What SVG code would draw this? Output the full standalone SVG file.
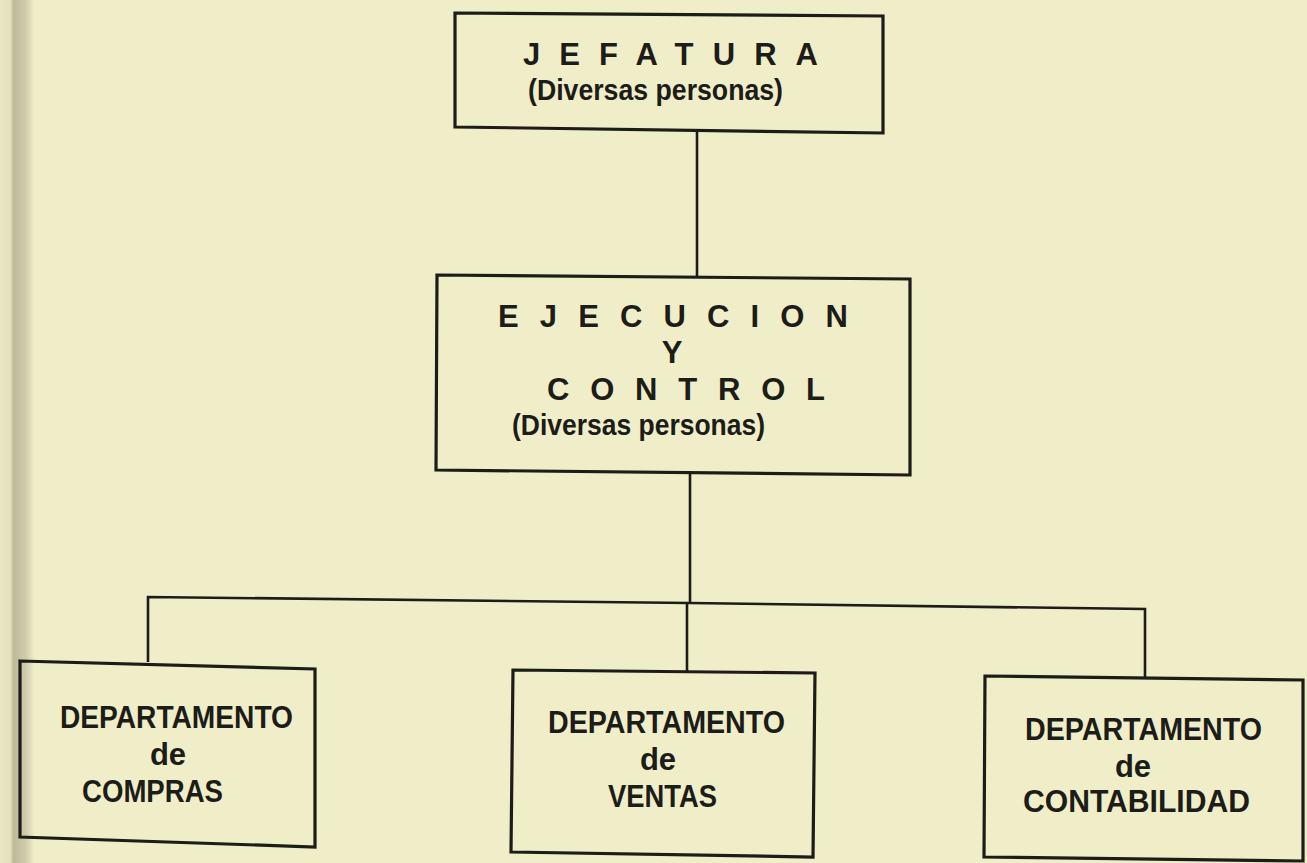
<svg xmlns="http://www.w3.org/2000/svg" width="1307" height="863" viewBox="0 0 1307 863">
<defs>
<linearGradient id="edge" x1="0" y1="0" x2="1" y2="0">
<stop offset="0" stop-color="#e9e7c4"/>
<stop offset="0.3" stop-color="#e4e1bd"/>
<stop offset="0.4" stop-color="#bdb99a"/>
<stop offset="0.75" stop-color="#cfcbab"/>
<stop offset="1" stop-color="#eeecc8"/>
</linearGradient>
</defs>
<style>
.bg{fill:#f0eec8}
.box{fill:none;stroke:#1c1c18;stroke-width:3.2}
.ln{fill:none;stroke:#1c1c18;stroke-width:2.6}
.t{font-family:"Liberation Sans",Arial,sans-serif;font-weight:bold;fill:#1c1c18}
.big{font-size:31px}
.sub{font-size:30px}
.dep{font-size:31px}
</style>
<rect class="bg" x="0" y="0" width="1307" height="863"/>
<rect x="0" y="0" width="34" height="863" fill="url(#edge)"/>
<g id="connectors">
<line class="ln" x1="697" y1="130" x2="697" y2="277"/>
<line class="ln" x1="690" y1="473" x2="690" y2="603"/>
<polyline class="ln" points="148,662 148,597 690,603 1145,609 1145,678"/>
<line class="ln" x1="687" y1="603" x2="687" y2="672"/>
</g>
<g id="jefatura">
<polygon class="box" points="455,13 883,16 883,133 455,127"/>
<text class="t big" x="523" y="65" textLength="295" lengthAdjust="spacing">JEFATURA</text>
<text class="t sub" x="528" y="100" textLength="255" lengthAdjust="spacingAndGlyphs">(Diversas personas)</text>
</g>
<g id="ejecucion">
<polygon class="box" points="437,275 910,279 910,475 436,470"/>
<text class="t big" x="498" y="327" textLength="350" lengthAdjust="spacing">EJECUCION</text>
<text class="t big" x="672" y="363" text-anchor="middle">Y</text>
<text class="t big" x="547" y="400" textLength="278" lengthAdjust="spacing">CONTROL</text>
<text class="t sub" x="512" y="435" textLength="253" lengthAdjust="spacingAndGlyphs">(Diversas personas)</text>
</g>
<g id="compras">
<polygon class="box" points="20,661 315,669 315,847 20,837"/>
<text class="t dep" x="60" y="728" textLength="233" lengthAdjust="spacingAndGlyphs">DEPARTAMENTO</text>
<text class="t dep" x="168" y="765" text-anchor="middle">de</text>
<text class="t dep" x="82" y="802" textLength="141" lengthAdjust="spacingAndGlyphs">COMPRAS</text>
</g>
<g id="ventas">
<polygon class="box" points="513,670 815,673 813,857 511,852"/>
<text class="t dep" x="548" y="733" textLength="237" lengthAdjust="spacingAndGlyphs">DEPARTAMENTO</text>
<text class="t dep" x="658" y="770" text-anchor="middle">de</text>
<text class="t dep" x="608" y="807" textLength="109" lengthAdjust="spacingAndGlyphs">VENTAS</text>
</g>
<g id="contabilidad">
<polygon class="box" points="985,676 1303,680 1303,861 984,857"/>
<text class="t dep" x="1025" y="740" textLength="237" lengthAdjust="spacingAndGlyphs">DEPARTAMENTO</text>
<text class="t dep" x="1133" y="777" text-anchor="middle">de</text>
<text class="t dep" x="1023" y="812" textLength="227" lengthAdjust="spacingAndGlyphs">CONTABILIDAD</text>
</g>
</svg>
